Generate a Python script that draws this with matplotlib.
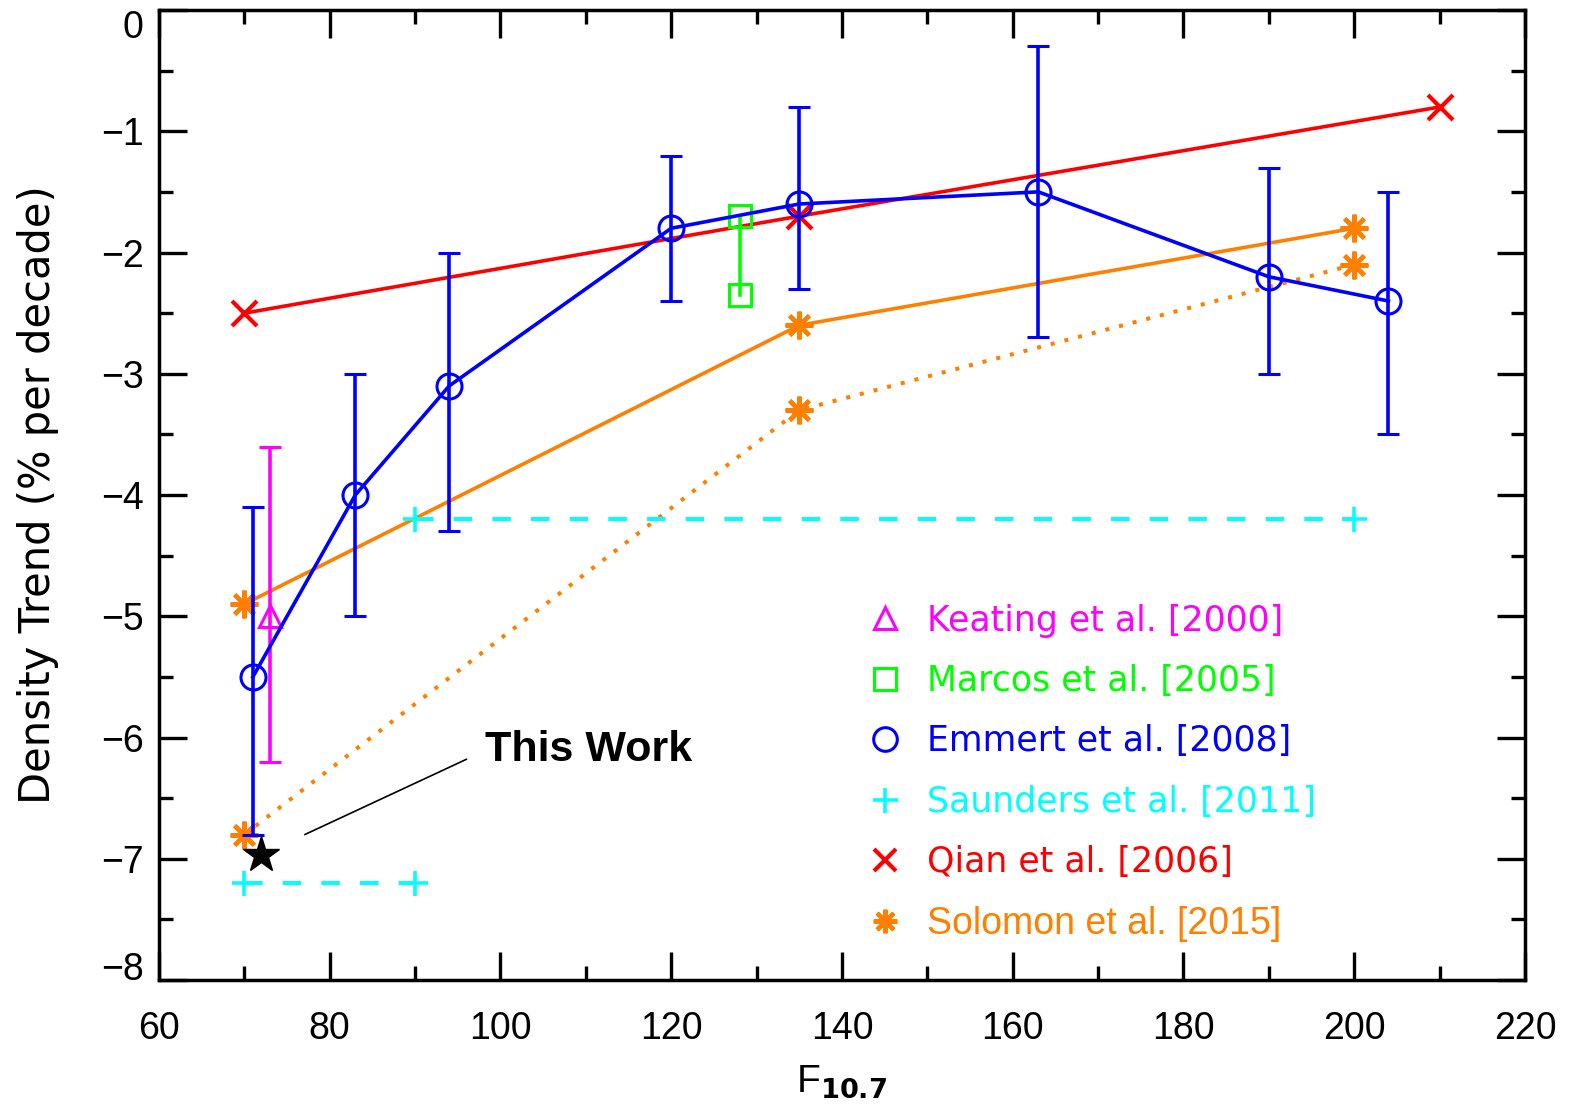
import matplotlib
matplotlib.use("Agg")
import matplotlib.pyplot as plt
from matplotlib.lines import Line2D
from matplotlib.ticker import MultipleLocator

# ---------------- data ----------------
emmert_x = [71, 83, 94, 120, 135, 163, 190, 204]
emmert_y = [-5.5, -4.0, -3.1, -1.8, -1.6, -1.5, -2.2, -2.4]
emmert_hi = [-4.1, -3.0, -2.0, -1.2, -0.8, -0.3, -1.3, -1.5]
emmert_lo = [-6.8, -5.0, -4.3, -2.4, -2.3, -2.7, -3.0, -3.5]

keating_x = [73]
keating_y = [-5.0]
keating_hi = [-3.6]
keating_lo = [-6.2]

marcos_x = [128, 128]
marcos_y = [-1.7, -2.35]

saunders_low_x = [70, 90]
saunders_low_y = [-7.2, -7.2]
saunders_high_x = [90, 200]
saunders_high_y = [-4.2, -4.2]

qian_x = [70, 135, 210]
qian_y = [-2.5, -1.7, -0.8]

solomon_x = [70, 135, 200]
solomon_solid_y = [-4.9, -2.6, -1.8]
solomon_dot_y = [-6.8, -3.3, -2.1]

this_work_x = [72]
this_work_y = [-6.97]

legend_labels = ["Keating et al. [2000]", "Marcos et al. [2005]",
                 "Emmert et al. [2008]", "Saunders et al. [2011]",
                 "Qian et al. [2006]", "Solomon et al. [2015]"]

# ---------------- colours ----------------
C_MAG = "#ff00ff"
C_GRN = "#00ff00"
C_BLU = "#0000ff"
C_CYN = "#00ffff"
C_RED = "#ff0000"
C_ORG = "#ff8000"

plt.rcParams['font.family'] = ['Liberation Sans', 'DejaVu Sans']
plt.rcParams['axes.unicode_minus'] = True

fig = plt.figure(figsize=(15.77, 11.11), dpi=100)
ax = fig.add_axes([0.1008, 0.1179, 0.8662, 0.8731])

LW = 2.6
MEW = 2.2
ASTER = (8, 2, 0)

# Solomon
ax.plot(solomon_x, solomon_solid_y, color=C_ORG, lw=LW, marker=ASTER, ms=20,
        mew=3.0, zorder=3)
ax.plot(solomon_x, solomon_dot_y, color=C_ORG, lw=LW + 0.3, ls=(0, (1.0, 2.5)),
        marker=ASTER, ms=20, mew=3.0, zorder=3)

# Saunders
for xs, ys in [(saunders_low_x, saunders_low_y), (saunders_high_x, saunders_high_y)]:
    ax.plot(xs, ys, color=C_CYN, lw=LW + 0.3, ls=(0, (4.6, 5.0)), marker='+', ms=18,
            mew=MEW + 0.4, zorder=3)

# Qian
ax.plot(qian_x, qian_y, color=C_RED, lw=LW, marker='x', ms=18, mew=MEW + 0.8, zorder=4)

# Marcos
ax.plot(marcos_x, marcos_y, color=C_GRN, lw=LW, marker='s', ms=16, mfc='none',
        mew=MEW, zorder=4)

# Keating
k_err = [[y - lo for y, lo in zip(keating_y, keating_lo)],
         [hi - y for y, hi in zip(keating_y, keating_hi)]]
ax.errorbar(keating_x, keating_y, yerr=k_err, color=C_MAG, lw=LW, marker='^',
            ms=16, mfc='none', mew=MEW, capsize=8, capthick=LW, zorder=4)

# Emmert
e_err = [[y - lo for y, lo in zip(emmert_y, emmert_lo)],
         [hi - y for y, hi in zip(emmert_y, emmert_hi)]]
ax.errorbar(emmert_x, emmert_y, yerr=e_err, color=C_BLU, lw=LW, marker='o',
            ms=18, mfc='none', mew=MEW, capsize=8, capthick=LW, zorder=5)

# This work
ax.plot(this_work_x, this_work_y, ls='none', marker='*', ms=27, color='black', zorder=6)
ax.plot([77.1, 96.0], [-6.80, -6.18], color='black', lw=1.2, zorder=6)
ax.text(98.2, -6.19, "This Work", fontsize=31, fontweight='bold',
        fontfamily='Liberation Sans', ha='left', va='baseline', zorder=6)

# ---------------- axes ----------------
ax.set_xlim(60, 220)
ax.set_ylim(-8, 0)
ax.xaxis.set_major_locator(MultipleLocator(20))
ax.xaxis.set_minor_locator(MultipleLocator(10))
ax.yaxis.set_major_locator(MultipleLocator(1))
ax.yaxis.set_minor_locator(MultipleLocator(0.5))
ax.tick_params(which='both', direction='in', top=True, right=True, width=2.4,
               labelsize=27)
ax.tick_params(which='major', length=20)
ax.tick_params(which='minor', length=10)
ax.tick_params(axis='x', pad=22)
ax.tick_params(axis='y', pad=11)
for s in ax.spines.values():
    s.set_linewidth(2.5)

ax.set_xlabel(r"$\mathregular{F_{\mathbf{10.7}}}$", fontsize=28, labelpad=12)
ax.set_ylabel("Density Trend (% per decade)", fontsize=30,
              fontfamily='DejaVu Sans', labelpad=30)

fig.canvas.draw()
for lab in ax.get_yticklabels():
    if lab.get_text() in ("0", "\u22120", "-0"):
        lab.set_va('top')
    if lab.get_text() in ("\u22128", "-8"):
        lab.set_va('baseline')

# ---------------- legend ----------------
handles = [
    Line2D([], [], ls='none', marker='^', ms=16, mfc='none', mec=C_MAG, mew=MEW),
    Line2D([], [], ls='none', marker='s', ms=16, mfc='none', mec=C_GRN, mew=MEW),
    Line2D([], [], ls='none', marker='o', ms=17, mfc='none', mec=C_BLU, mew=MEW),
    Line2D([], [], ls='none', marker='+', ms=18, mec=C_CYN, mew=MEW + 0.4),
    Line2D([], [], ls='none', marker='x', ms=16, mec=C_RED, mew=MEW + 0.8),
    Line2D([], [], ls='none', marker=ASTER, ms=17, mec=C_ORG, mew=3.0),
]
colors = [C_MAG, C_GRN, C_BLU, C_CYN, C_RED, C_ORG]
leg = ax.legend(handles, legend_labels, loc='upper left',
                bbox_to_anchor=(0.519, 0.388), frameon=False,
                prop={'family': 'DejaVu Sans', 'size': 25},
                handlelength=1.0, handletextpad=0.7, labelspacing=0.76,
                borderpad=0, borderaxespad=0)
for t, c in zip(leg.get_texts(), colors):
    t.set_color(c)
leg.get_texts()[5].set_fontfamily('Liberation Sans')
leg.get_texts()[5].set_fontsize(27)

fig.savefig("out.png", dpi=100)
